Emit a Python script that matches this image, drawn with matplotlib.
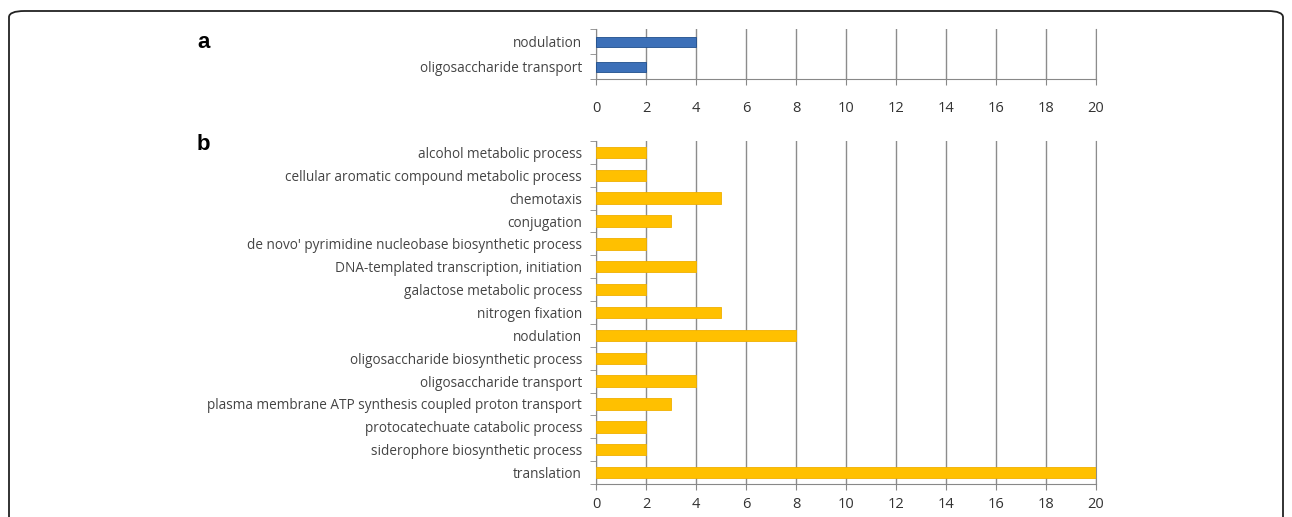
import matplotlib.pyplot as plt
from matplotlib.patches import FancyBboxPatch
import numpy as np

plt.rcParams['font.family'] = ['Open Sans', 'DejaVu Sans']

# panel a
cats_a = ["nodulation", "oligosaccharide transport"]
vals_a = [4, 2]

# panel b
cats_b = ["alcohol metabolic process",
          "cellular aromatic compound metabolic process",
          "chemotaxis",
          "conjugation",
          "de novo' pyrimidine nucleobase biosynthetic process",
          "DNA-templated transcription, initiation",
          "galactose metabolic process",
          "nitrogen fixation",
          "nodulation",
          "oligosaccharide biosynthetic process",
          "oligosaccharide transport",
          "plasma membrane ATP synthesis coupled proton transport",
          "protocatechuate catabolic process",
          "siderophore biosynthetic process",
          "translation"]
vals_b = [2, 2, 5, 3, 2, 4, 2, 5, 8, 2, 4, 3, 2, 2, 20]

xticks = list(range(0, 21, 2))
W, H = 1292, 517

fig = plt.figure(figsize=(W / 100, H / 100), dpi=100)

# rounded frame around the figure
frame = FancyBboxPatch((9 / W, -0.1), (1283 - 9) / W, (H - 11) / H + 0.1,
                       boxstyle="round,pad=0,rounding_size=0.012",
                       transform=fig.transFigure, fill=False,
                       edgecolor="#222222", linewidth=1.3)
fig.patches.append(frame)


def style_axes(ax, cats, vals, color, edge, height, xpad):
    n = len(cats)
    y = np.arange(n)
    ax.barh(y, vals, height=height, color=color, edgecolor=edge,
            linewidth=0.6, zorder=3)
    ax.set_xlim(0, 20)
    ax.set_ylim(n - 0.5, -0.5)
    ax.set_xticks(xticks)
    ax.set_yticks(y)
    ax.set_yticklabels(cats)
    ax.set_yticks(np.arange(n + 1) - 0.5, minor=True)
    ax.tick_params(axis="y", which="major", length=0, pad=10,
                   labelsize=9.8, labelcolor="#444444")
    ax.tick_params(axis="y", which="minor", length=4, color="#888888",
                   direction="out")
    ax.tick_params(axis="x", length=4, color="#888888", direction="out",
                   labelsize=10.5, labelcolor="#333333", pad=xpad)
    ax.grid(axis="x", color="#8c8c8c", linewidth=1.0, zorder=0)
    ax.spines["top"].set_visible(False)
    ax.spines["right"].set_color("#8c8c8c")
    ax.spines["left"].set_color("#888888")
    ax.spines["bottom"].set_color("#888888")
    ax.set_axisbelow(True)


ax_a = fig.add_axes([596 / W, 1 - 79 / H, 500 / W, 50 / H])
style_axes(ax_a, cats_a, vals_a, "#3c70b8", "#1f4e8c", 0.4, 12)

ax_b = fig.add_axes([596 / W, 1 - 484 / H, 500 / W, 343 / H])
style_axes(ax_b, cats_b, vals_b, "#ffc000", "#f0b000", 0.5, 5)

fig.text(197 / W, 1 - 42 / H, "a", fontsize=16, fontweight="bold",
         family="Liberation Sans", va="center", ha="left")
fig.text(197 / W, 1 - 144 / H, "b", fontsize=16, fontweight="bold",
         family="Liberation Sans", va="center", ha="left")

fig.savefig("out.png", dpi=100)
